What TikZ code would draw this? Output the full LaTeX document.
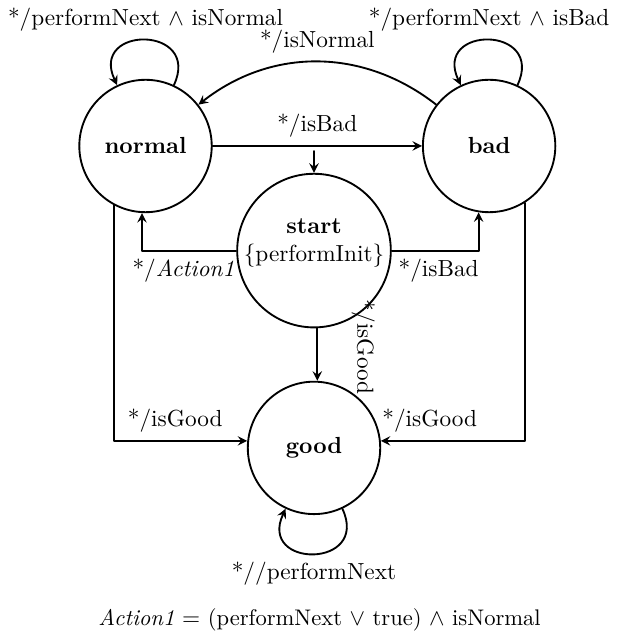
\documentclass[tikz,border=0pt]{standalone}
\usetikzlibrary{positioning}

\begin{document}
\begin{tikzpicture}[line cap=round, line join=round, >=stealth, thick]

	% Kiểu chung cho các trạng thái và vòng lặp
	\tikzset{
		statenode/.style={circle, draw, thick, minimum size=2cm, inner sep=0pt, font=\bfseries},
		selfloop/.style={distance=1cm}
	}

	% Khung ảnh cố định (giữ lề như bản gốc)
	\useasboundingbox (-2.198,2.205) rectangle (7.304,-7.341);

	% ----------------------------------------------------
	% CÁC TRẠNG THÁI
	% ----------------------------------------------------
	\node[statenode] (normal) at (0,0) {normal};
	\node[statenode] (bad) at (5.19,0) {bad};
	\node[statenode, align=center] (start) at (2.545,-1.58) {start\\{\mdseries\{performInit\}}\rule[-8.9pt]{0pt}{8.9pt}};
	\node[statenode] (good) at (2.545,-4.56) {good};

	% Mũi tên khởi đầu
	\coordinate (init) at ([yshift=0.33cm]start.north);
	\draw[->] (init) -- (start);

	% ----------------------------------------------------
	% VÒNG LẶP
	% ----------------------------------------------------
	\draw[->] (normal) to[selfloop, out=65, in=115] node[above] {*/performNext $\wedge$ isNormal} (normal);
	\draw[->] (bad) to[selfloop, out=65, in=115] node[above] {*/performNext $\wedge$ isBad} (bad);
	\draw[->] (good) to[selfloop, out=295, in=245] node[below] {*//performNext} (good);

	% ----------------------------------------------------
	% CHUYỂN TRẠNG THÁI
	% ----------------------------------------------------
	\draw[->] (normal) -- node[above] {*/isBad} (bad);
	\draw[->] (bad) to[bend right=38] node[above] {*/isNormal} (normal);

	\draw[->] (start.west) -| node[pos=0.28, below] {*/\textit{Action1}} (normal.267);
	\draw[->] (start.east) -| node[pos=0.27, below] {*/isBad} (bad.261);
	\draw[->] ([xshift=1.4pt]start.south) -- node[pos=0.36, sloped, above=11pt] {*/isGood} ([xshift=1.4pt]good.north);

	\draw[->] (normal.242) |- node[pos=0.73, above] {*/isGood} (good.174);
	\draw[->] (bad.302) |- node[pos=0.83, above] {*/isGood} (good.6);

	% Chú thích bên dưới
	\node[font=\fontsize{9.7}{11.6}\selectfont] (note) at (2.63,-7.16) {\textit{Action1} $=$ (performNext $\vee$ true) $\wedge$ isNormal};

\end{tikzpicture}
\end{document}
